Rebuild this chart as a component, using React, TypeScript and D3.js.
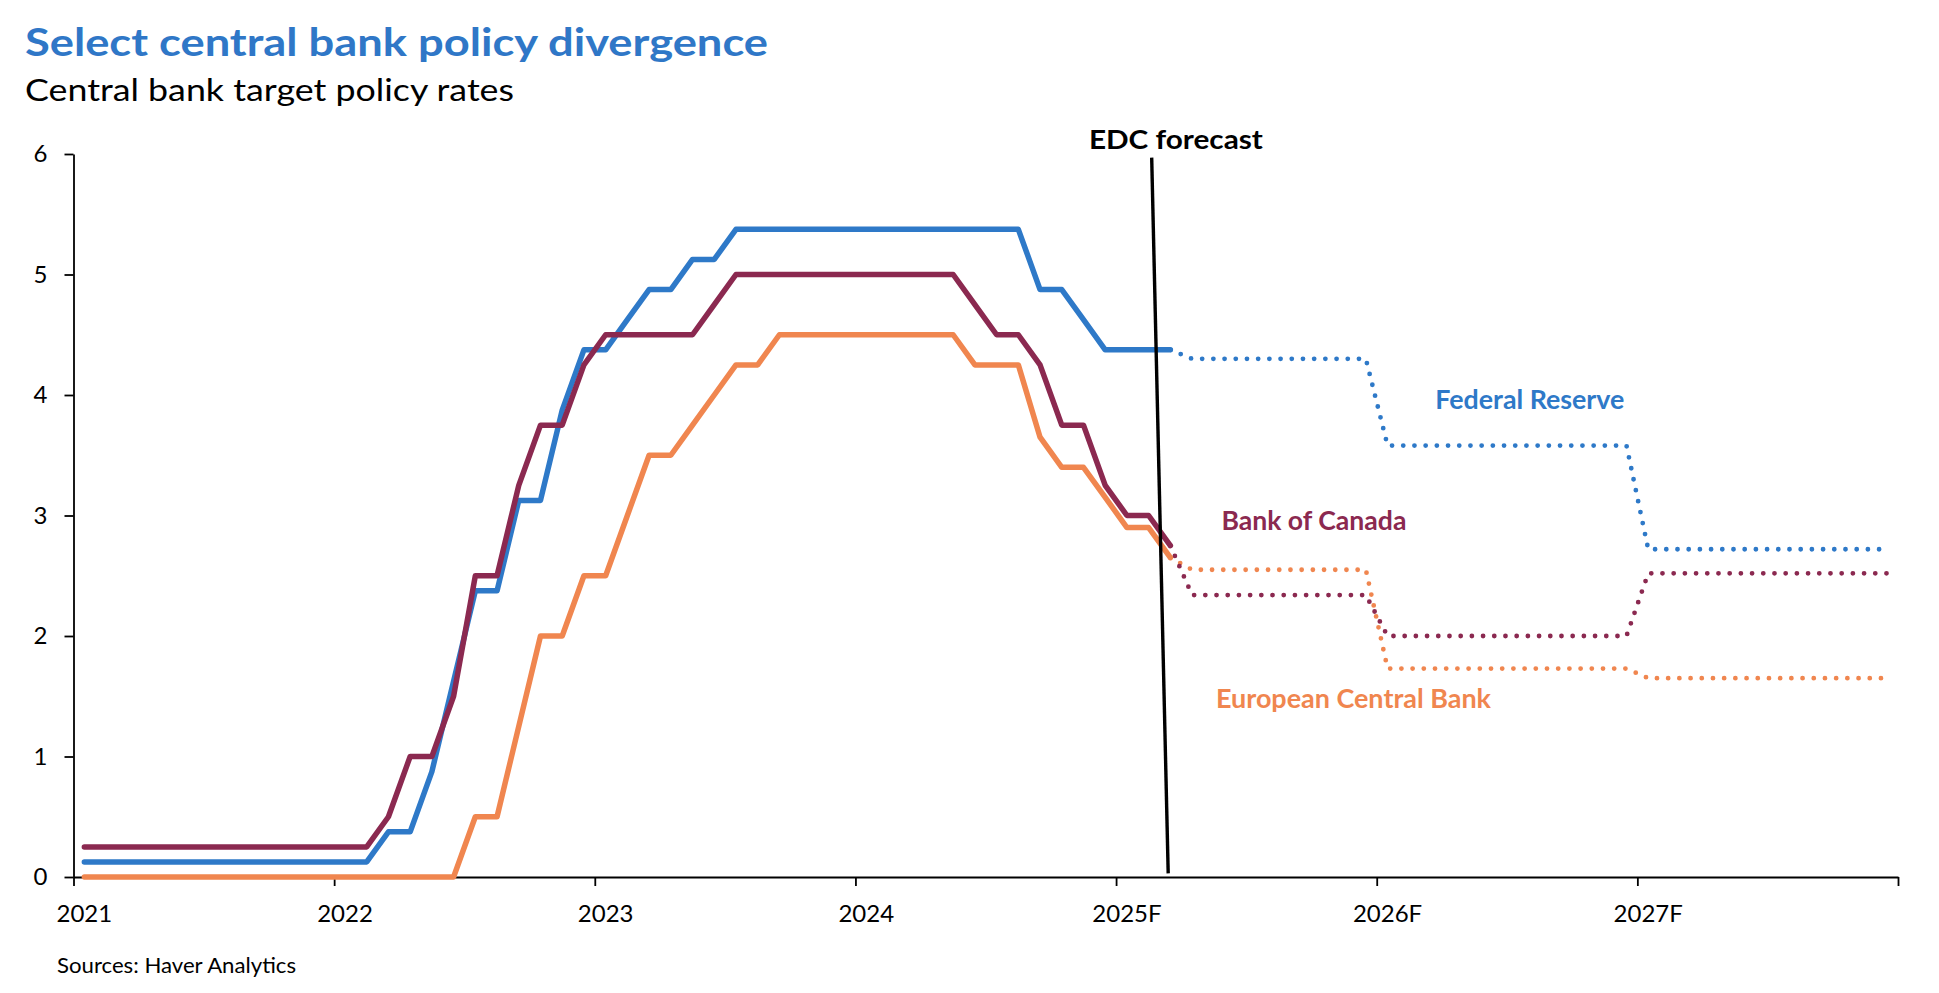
import { useEffect, useRef } from "react"
import * as d3 from "d3"

// x axis: one slot per month, Jan 2021 .. Dec 2027
const yearLabels = ["2021", "2022", "2023", "2024", "2025F", "2026F", "2027F"]
const yTicks = [0, 1, 2, 3, 4, 5, 6]

// monthly policy rates, Jan 2021 - Mar 2025
const fedActual = [
  0.125, 0.125, 0.125, 0.125, 0.125, 0.125, 0.125, 0.125, 0.125, 0.125, 0.125, 0.125,
  0.125, 0.125, 0.375, 0.375, 0.875, 1.625, 2.375, 2.375, 3.125, 3.125, 3.875, 4.375,
  4.375, 4.625, 4.875, 4.875, 5.125, 5.125, 5.375, 5.375, 5.375, 5.375, 5.375, 5.375,
  5.375, 5.375, 5.375, 5.375, 5.375, 5.375, 5.375, 5.375, 4.875, 4.875, 4.625, 4.375,
  4.375, 4.375, 4.375,
]
const bocActual = [
  0.25, 0.25, 0.25, 0.25, 0.25, 0.25, 0.25, 0.25, 0.25, 0.25, 0.25, 0.25,
  0.25, 0.25, 0.5, 1.0, 1.0, 1.5, 2.5, 2.5, 3.25, 3.75, 3.75, 4.25,
  4.5, 4.5, 4.5, 4.5, 4.5, 4.75, 5.0, 5.0, 5.0, 5.0, 5.0, 5.0,
  5.0, 5.0, 5.0, 5.0, 5.0, 4.75, 4.5, 4.5, 4.25, 3.75, 3.75, 3.25,
  3.0, 3.0, 2.75,
]
const ecbActual = [
  0, 0, 0, 0, 0, 0, 0, 0, 0, 0, 0, 0,
  0, 0, 0, 0, 0, 0, 0.5, 0.5, 1.25, 2.0, 2.0, 2.5,
  2.5, 3.0, 3.5, 3.5, 3.75, 4.0, 4.25, 4.25, 4.5, 4.5, 4.5, 4.5,
  4.5, 4.5, 4.5, 4.5, 4.5, 4.25, 4.25, 4.25, 3.65, 3.4, 3.4, 3.15,
  2.9, 2.9, 2.65,
]

// EDC annual forecasts for 2025F, 2026F, 2027F
const fedForecast = [4.3, 3.58, 2.72]
const bocForecast = [2.34, 2.0, 2.52]
const ecbForecast = [2.55, 1.73, 1.65]

const seriesNames = ["European Central Bank", "Federal Reserve", "Bank of Canada"]
const seriesColors = ["#F0864F", "#2E79C8", "#8B2950"]

// annotation anchors, in (month, rate) units
const labelMonths = [52.6, 62.7, 52.85]
const labelValues = [1.4, 3.88, 2.88]
const labelWidths = [275, 189, 185]

const forecastLineMonths = [49.64, 50.4]
const forecastLineValues = [5.97, 0.03]

const W = 1939
const H = 993

type Pt = { m: number; v: number }

const toPoints = (vals: number[]): Pt[] => vals.map((v, m) => ({ m, v }))

const forecastPoints = (actual: number[], annual: number[]): Pt[] => {
  const last = actual.length - 1
  return [
    { m: last, v: actual[last] },
    ...d3.range(last + 1, 84).map((m) => ({ m, v: annual[Math.floor(m / 12) - 4] })),
  ]
}

export default function App() {
  const svgRef = useRef<SVGSVGElement>(null)

  useEffect(() => {
    if (!svgRef.current) return
    const svg = d3.select(svgRef.current)
    svg.selectAll("*").remove()

    const margin = { top: 154, right: 41, bottom: 116, left: 73.5 }
    const x = d3.scaleLinear().domain([0, 84]).range([margin.left, W - margin.right])
    const y = d3.scaleLinear().domain([0, 6]).range([H - margin.bottom, margin.top])

    const font = "Lato, 'Noto Sans', sans-serif"

    // Titles
    svg
      .append("text")
      .attr("x", 25)
      .attr("y", 56)
      .attr("fill", "#2F77C7")
      .attr("font-family", font)
      .attr("font-weight", 700)
      .attr("font-size", 39)
      .attr("textLength", 743)
      .attr("lengthAdjust", "spacingAndGlyphs")
      .text("Select central bank policy divergence")

    svg
      .append("text")
      .attr("x", 25)
      .attr("y", 100.5)
      .attr("fill", "#000")
      .attr("font-family", font)
      .attr("font-size", 30)
      .attr("textLength", 489)
      .attr("lengthAdjust", "spacingAndGlyphs")
      .text("Central bank target policy rates")

    // Y axis
    const yAxis = svg
      .append("g")
      .attr("transform", `translate(${margin.left},0)`)
      .call(
        d3
          .axisLeft(y)
          .tickValues(yTicks)
          .tickFormat(d3.format("d"))
          .tickSize(9)
          .tickSizeOuter(0)
          .tickPadding(17)
      )
    yAxis.selectAll("path,line").attr("stroke", "#000").attr("stroke-width", 1.8)
    yAxis.selectAll("text").attr("font-family", font).attr("font-size", 24).attr("fill", "#000")

    // X axis
    const xAxis = svg
      .append("g")
      .attr("transform", `translate(0,${y(0)})`)
      .call(
        d3
          .axisBottom(x)
          .tickValues(d3.range(0, 85, 12))
          .tickSize(9)
          .tickSizeOuter(0)
          .tickFormat(() => "")
      )
    xAxis.selectAll("path,line").attr("stroke", "#000").attr("stroke-width", 1.8)

    svg
      .append("g")
      .selectAll("text")
      .data(yearLabels)
      .enter()
      .append("text")
      .attr("x", (_, i) => x(i * 12 + 0.5))
      .attr("y", y(0) + 45)
      .attr("text-anchor", "middle")
      .attr("font-family", font)
      .attr("font-size", 24)
      .attr("fill", "#000")
      .text((d) => d)

    // Lines
    const line = d3
      .line<Pt>()
      .x((d) => x(d.m + 0.5))
      .y((d) => y(d.v))

    const actuals = [ecbActual, fedActual, bocActual]
    const forecasts = [ecbForecast, fedForecast, bocForecast]

    actuals.forEach((vals, i) => {
      svg
        .append("path")
        .datum(forecastPoints(vals, forecasts[i]))
        .attr("d", line)
        .attr("fill", "none")
        .attr("stroke", seriesColors[i])
        .attr("stroke-width", 4.8)
        .attr("stroke-linecap", "round")
        .attr("stroke-dasharray", "0 11.2")
    })

    actuals.forEach((vals, i) => {
      svg
        .append("path")
        .datum(toPoints(vals))
        .attr("d", line)
        .attr("fill", "none")
        .attr("stroke", seriesColors[i])
        .attr("stroke-width", 5.5)
        .attr("stroke-linecap", "round")
        .attr("stroke-linejoin", "round")
    })

    // Series labels
    seriesNames.forEach((name, i) => {
      svg
        .append("text")
        .attr("x", x(labelMonths[i]))
        .attr("y", y(labelValues[i]))
        .attr("fill", seriesColors[i])
        .attr("font-family", font)
        .attr("font-weight", 700)
        .attr("font-size", 26)
        .attr("textLength", labelWidths[i])
        .attr("lengthAdjust", "spacingAndGlyphs")
        .text(name)
    })

    // Forecast divider
    svg
      .append("line")
      .attr("x1", x(forecastLineMonths[0]))
      .attr("y1", y(forecastLineValues[0]))
      .attr("x2", x(forecastLineMonths[1]))
      .attr("y2", y(forecastLineValues[1]))
      .attr("stroke", "#000")
      .attr("stroke-width", 3.4)

    svg
      .append("text")
      .attr("x", x(46.75))
      .attr("y", y(6.04))
      .attr("fill", "#000")
      .attr("font-family", font)
      .attr("font-weight", 700)
      .attr("font-size", 26)
      .attr("textLength", 174)
      .attr("lengthAdjust", "spacingAndGlyphs")
      .text("EDC forecast")

    // Source note
    svg
      .append("text")
      .attr("x", 57)
      .attr("y", 973)
      .attr("fill", "#000")
      .attr("font-family", font)
      .attr("font-size", 21)
      .attr("textLength", 239)
      .attr("lengthAdjust", "spacingAndGlyphs")
      .text("Sources: Haver Analytics")
  }, [])

  return (
    <div style={{ position: "absolute", left: 0, top: 0 }}>
      <svg ref={svgRef} width={W} height={H} style={{ display: "block", background: "#fff" }}></svg>
    </div>
  )
}
